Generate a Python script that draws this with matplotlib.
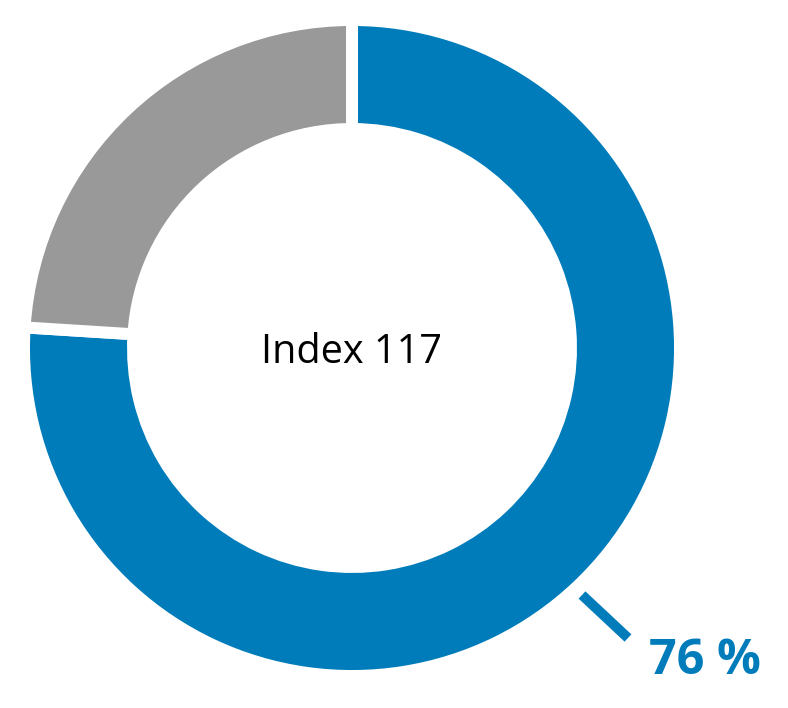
import matplotlib
matplotlib.use("Agg")
import matplotlib.pyplot as plt

# Dados do gráfico
fatias = [76, 24]
cores = ['#007cba', '#999999']
rotulo_centro = "Index 117"
rotulo_valor = "76 %"

fig = plt.figure(figsize=(7.88, 7.08), dpi=100)
ax = fig.add_axes([0, 0, 1, 1])

# ---------- Rosca ----------
ax.pie(fatias, colors=cores, startangle=90, counterclock=False,
       center=(352, 360), radius=328,
       wedgeprops=dict(width=109, edgecolor='white', linewidth=8.6))

ax.set_xlim(0, 788)
ax.set_ylim(0, 708)
ax.set_aspect('equal')
ax.axis('off')

# Texto central
ax.text(352, 355, rotulo_centro, ha='center', va='center',
        fontsize=28.5, family='Open Sans', color='black')

# Linha indicadora e rótulo de percentual
ax.plot([582, 628], [113, 70], color=cores[0], linewidth=7.2,
        solid_capstyle='butt')
ax.text(705, 46, rotulo_valor, ha='center', va='center',
        fontsize=35, fontweight='bold', family='Open Sans', color=cores[0])

fig.savefig("out.png", dpi=100)
